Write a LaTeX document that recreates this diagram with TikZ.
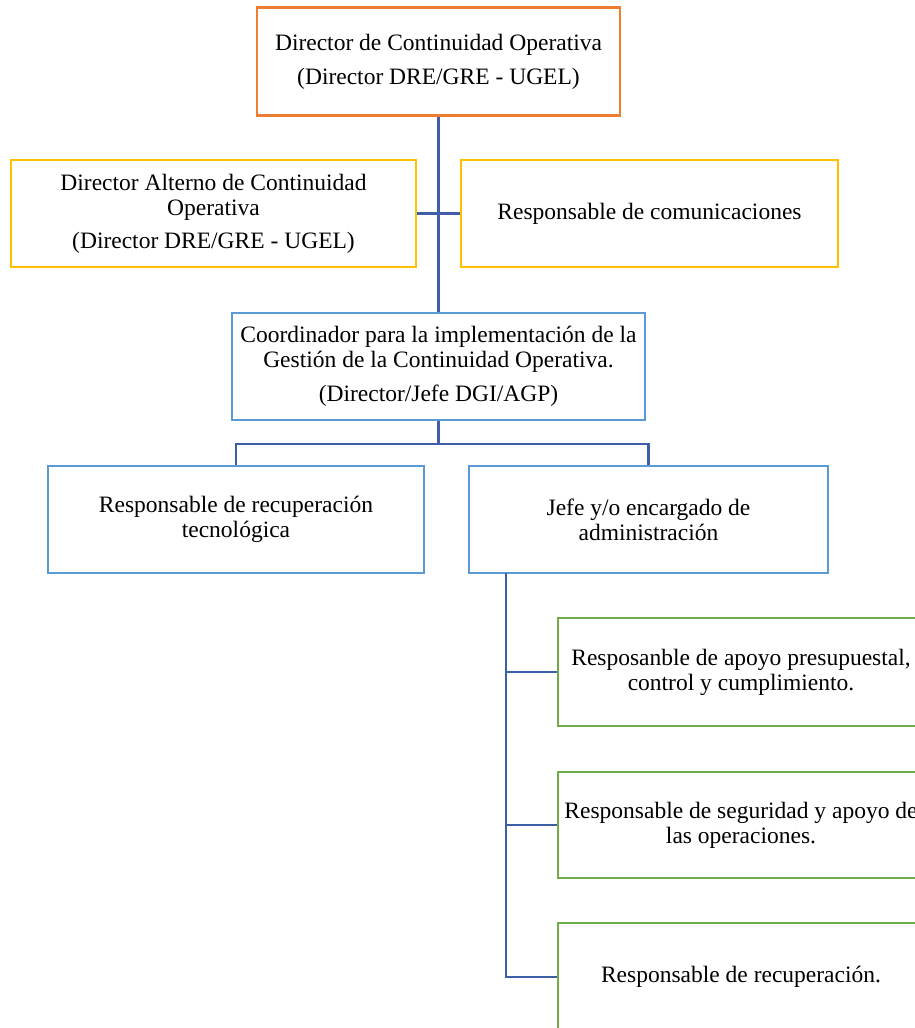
\documentclass[tikz,border=0pt]{standalone}
\usepackage{fontspec}
\setmainfont{Liberation Serif}
\definecolor{cOrange}{HTML}{ED7D31}
\definecolor{cYellow}{HTML}{FFC000}
\definecolor{cBlue}{HTML}{5B9BD5}
\definecolor{cGreen}{HTML}{70AD47}
\definecolor{cLine}{RGB}{62,95,168}
\tikzset{
  box/.style={draw, line width=2.6pt, fill=white, inner sep=0pt, align=center,
    font=\fontsize{23.5}{25}\selectfont},
  conn/.style={draw=cLine, line width=2.8pt}
}
\begin{document}
\begin{tikzpicture}[x=1pt,y=-1pt]
\useasboundingbox (0,0) rectangle (915,1028);
\clip (0,0) rectangle (915,1028);
\fill[white] (0,0) rectangle (915,1028);
\coordinate (bus) at (438.5,444);
\coordinate (v) at (506,573);
\node[box, draw=cOrange, minimum width=363pt, minimum height=108pt] (top) at (438.5,61.5)
  {Director de Continuidad Operativa\\[9pt](Director DRE/GRE - UGEL)};
\node[box, draw=cYellow, minimum width=405pt, minimum height=107pt] (alt) at (213.5,213.5)
  {Director Alterno de Continuidad\\Operativa\\[8pt](Director DRE/GRE - UGEL)};
\node[box, draw=cYellow, minimum width=377pt, minimum height=107pt] (com) at (649.5,213.5)
  {Responsable de comunicaciones};
\node[box, draw=cBlue, minimum width=413pt, minimum height=107pt] (coord) at (438.5,366.5)
  {Coordinador para la implementación de la\\Gestión de la Continuidad Operativa.\\[9pt](Director/Jefe DGI/AGP)};
\node[box, draw=cBlue, minimum width=376pt, minimum height=107pt] (ll) at (236,519.5)
  {Responsable de recuperación\\tecnológica};
\node[box, draw=cBlue, minimum width=359pt, minimum height=107pt] (lr) at (648.5,519.5)
  {Jefe y/o encargado de\\administración};
\node[box, draw=cGreen, minimum width=366pt, minimum height=108pt] (g1) at (741,672)
  {Resposanble de apoyo presupuestal,\\control y cumplimiento.};
\node[box, draw=cGreen, minimum width=366pt, minimum height=106pt] (g2) at (741,825)
  {Responsable de seguridad y apoyo de\\las operaciones.};
\node[box, draw=cGreen, minimum width=366pt, minimum height=108pt] (g3) at (741,977)
  {Responsable de recuperación.};
\draw[conn] (top.south) -- (coord.north);
\draw[conn] (alt.east) -- (com.west);
\draw[conn] (coord.south) -- (bus);
\draw[conn] (ll.north) |- (bus) -| (lr.north);
\draw[conn] (v) |- (g1.west);
\draw[conn] (v) |- (g2.west);
\draw[conn] (v) |- (g3.west);
\end{tikzpicture}
\end{document}
